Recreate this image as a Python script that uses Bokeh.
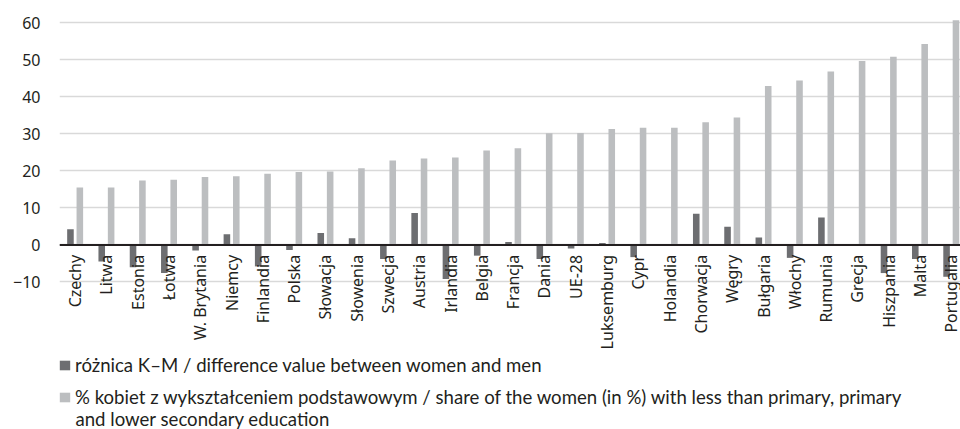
import numpy as np
from bokeh.plotting import figure
from bokeh.models import (ColumnDataSource, Range1d, FixedTicker, Span, Legend, LegendItem, Label)
from bokeh.core.properties import value
from bokeh.embed import file_html
from bokeh.resources import INLINE

categories = ["Czechy", "Litwa", "Estonia", "Łotwa", "W. Brytania", "Niemcy", "Finlandia",
              "Polska", "Słowacja", "Słowenia", "Szwecja", "Austria", "Irlandia", "Belgia",
              "Francja", "Dania", "UE-28", "Luksemburg", "Cypr", "Holandia", "Chorwacja",
              "Węgry", "Bułgaria", "Włochy", "Rumunia", "Grecja", "Hiszpania", "Malta",
              "Portugalia"]
diff_values = [4.2, -4.5, -6.0, -7.6, -1.5, 2.9, -5.8, -1.4, 3.2, 1.8, -3.8, 8.6, -9.2, -2.9,
               0.8, -3.8, -1.0, 0.5, -3.3, 0.0, 8.4, 4.9, 2.0, -3.5, 7.4, 0.0, -7.6, -3.8, -8.6]
share_values = [15.5, 15.5, 17.4, 17.6, 18.3, 18.5, 19.2, 19.7, 19.8, 20.7, 22.8, 23.3, 23.6,
                25.5, 26.1, 30.1, 30.2, 31.3, 31.6, 31.6, 33.1, 34.4, 42.9, 44.4, 46.8, 49.6,
                50.8, 54.2, 60.6]
y_ticks = [-10, 0, 10, 20, 30, 40, 50, 60]
legend_labels = ["różnica K–M / difference value between women and men",
                 "% kobiet z wykształceniem podstawowym / share of the women (in %) with less than primary, primary"]
legend_wrap = "and lower secondary education"

DARK = "#6d6e71"
LIGHT = "#bcbec0"
TEXT = "#231f20"

idx = np.arange(len(categories))
src = ColumnDataSource(dict(
    x=idx, xd=idx - 0.15, xl=idx + 0.15,
    diff=diff_values, share=share_values,
    cat=categories, zero=np.zeros(len(categories)),
))

p = figure(width=960, height=429, output_backend="svg", toolbar_location=None,
           x_axis_location=None, x_range=Range1d(-0.5, 28.295),
           y_range=Range1d(-49.82, 61.1),
           min_border_left=59, min_border_right=0, min_border_top=18, min_border_bottom=0)
p.outline_line_color = None
p.xgrid.visible = False
p.ygrid.ticker = FixedTicker(ticks=y_ticks)
p.ygrid.grid_line_color = "#d9d9d9"
p.ygrid.grid_line_width = 1.5

ax = p.yaxis[0]
ax.ticker = FixedTicker(ticks=y_ticks)
ax.axis_line_color = None
ax.major_tick_line_color = None
ax.minor_tick_line_color = None
ax.major_tick_out = 0
ax.major_tick_in = 0
ax.major_label_standoff = 19
ax.major_label_text_font = "Noto Sans"
ax.major_label_text_font_size = "16px"
ax.major_label_text_color = TEXT
ax.major_label_overrides = {-10: "−10"}

r_dark = p.vbar(x="xd", top="diff", bottom=0, width=0.21, source=src,
                fill_color=DARK, line_color=None)
r_light = p.vbar(x="xl", top="share", bottom=0, width=0.21, source=src,
                 fill_color=LIGHT, line_color=None)

p.add_layout(Span(location=0, dimension="width", line_color=TEXT, line_width=2))

p.text(x="x", y="zero", text="cat", source=src, angle=np.pi / 2,
       text_align="right", text_baseline="middle", y_offset=10,
       text_font=value("Noto Sans"), text_font_size="16px", text_color=TEXT)

legend = Legend(items=[LegendItem(label=legend_labels[0], renderers=[r_dark]),
                       LegendItem(label=legend_labels[1], renderers=[r_light])],
                location=(-1, 21), orientation="vertical",
                border_line_color=None, background_fill_alpha=0,
                label_text_font="Lato", label_text_font_size="18.6px",
                label_text_color=TEXT, glyph_width=13, glyph_height=12,
                label_height=22, label_standoff=4, spacing=10, padding=0, margin=0)
p.add_layout(legend)

p.add_layout(Label(x=16, y=11, x_units="screen", y_units="screen", text=legend_wrap,
                   text_baseline="middle", text_font="Lato", text_font_size="18.6px",
                   text_color=TEXT))

open("out.html", "w").write(file_html(p, INLINE))
